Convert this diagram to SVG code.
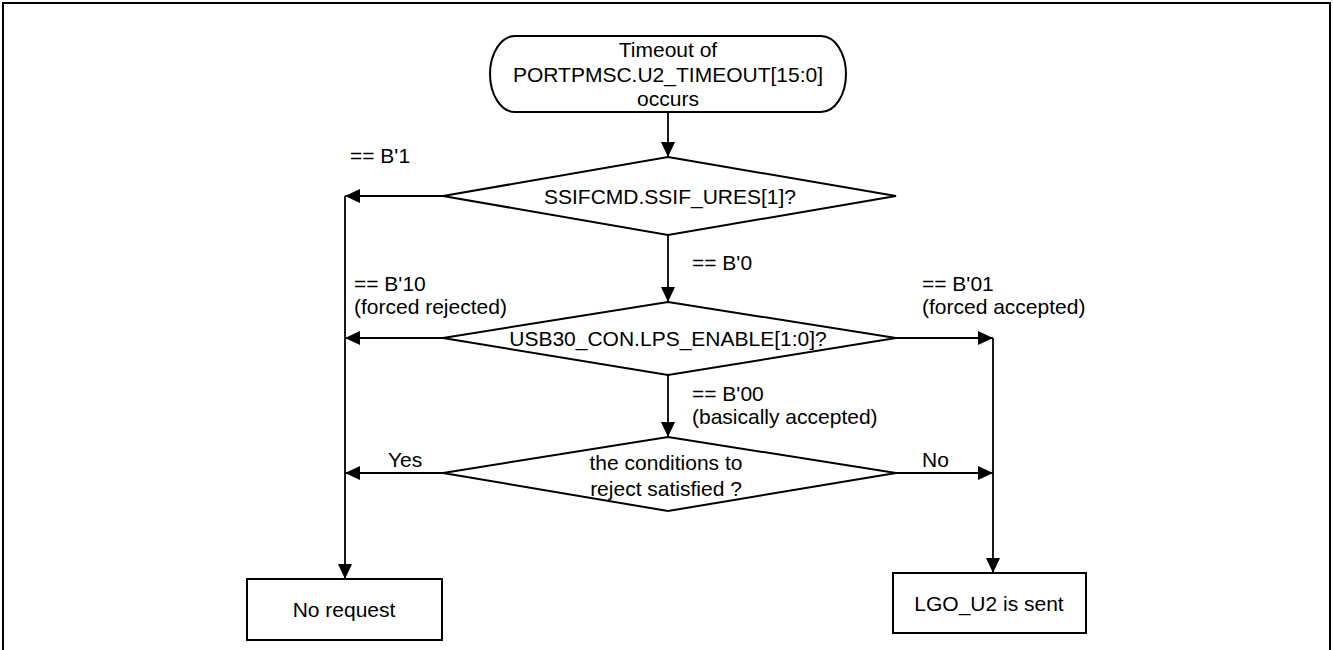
<svg xmlns="http://www.w3.org/2000/svg" width="1333" height="650" viewBox="0 0 1333 650">
<style>
text{font-family:"Liberation Sans",Arial,sans-serif;font-size:21px;fill:#000}
.c{text-anchor:middle}
.s{fill:#fff;stroke:#000;stroke-width:2}
.l{fill:none;stroke:#000;stroke-width:1.8}
</style>
<defs>
<marker id="a" markerWidth="16" markerHeight="14" refX="15" refY="7" orient="auto" markerUnits="userSpaceOnUse">
<path d="M0,0 L15,7 L0,14 Z" fill="#000"/>
</marker>
</defs>
<path d="M3,650 V3 H1330 V650" fill="none" stroke="#000" stroke-width="2"/>
<g id="connectors">
<path class="l" d="M668,112 V157" marker-end="url(#a)"/>
<path class="l" d="M443,196 H345" marker-end="url(#a)"/>
<path class="l" d="M345,196 V579" marker-end="url(#a)"/>
<path class="l" d="M668,235 V302" marker-end="url(#a)"/>
<path class="l" d="M443,338 H345" marker-end="url(#a)"/>
<path class="l" d="M896,338 H993" marker-end="url(#a)"/>
<path class="l" d="M993,338 V573" marker-end="url(#a)"/>
<path class="l" d="M668,375 V437" marker-end="url(#a)"/>
<path class="l" d="M443,473 H345" marker-end="url(#a)"/>
<path class="l" d="M896,473 H993" marker-end="url(#a)"/>
</g>
<g id="start">
<rect class="s" x="490" y="36" width="356" height="76" rx="25" ry="38"/>
<text class="c" x="668" y="57">Timeout of</text>
<text class="c" x="668" y="82">PORTPMSC.U2_TIMEOUT[15:0]</text>
<text class="c" x="668" y="106">occurs</text>
</g>
<g id="d1">
<path class="s" d="M668,157 L896,196 L668,235 L443,196 Z"/>
<text class="c" x="670" y="204">SSIFCMD.SSIF_URES[1]?</text>
</g>
<g id="d2">
<path class="s" d="M668,302 L896,338 L668,375 L443,338 Z"/>
<text class="c" x="668" y="346">USB30_CON.LPS_ENABLE[1:0]?</text>
</g>
<g id="d3">
<path class="s" d="M668,437 L896,473 L668,511 L443,473 Z"/>
<text class="c" x="666" y="470">the conditions to</text>
<text class="c" x="666" y="496">reject satisfied ?</text>
</g>
<g id="norequest">
<rect class="s" x="247" y="579" width="195" height="61"/>
<text class="c" x="344" y="617">No request</text>
</g>
<g id="lgo">
<rect class="s" x="893" y="573" width="193" height="60"/>
<text class="c" x="989" y="611">LGO_U2 is sent</text>
</g>
<g id="labels">
<text x="350" y="163">== B'1</text>
<text x="692" y="270">== B'0</text>
<text x="354" y="291">== B'10</text>
<text x="354" y="314">(forced rejected)</text>
<text x="922" y="291">== B'01</text>
<text x="922" y="314">(forced accepted)</text>
<text x="692" y="401">== B'00</text>
<text x="692" y="424">(basically accepted)</text>
<text x="388" y="467">Yes</text>
<text x="922" y="467">No</text>
</g>
</svg>
